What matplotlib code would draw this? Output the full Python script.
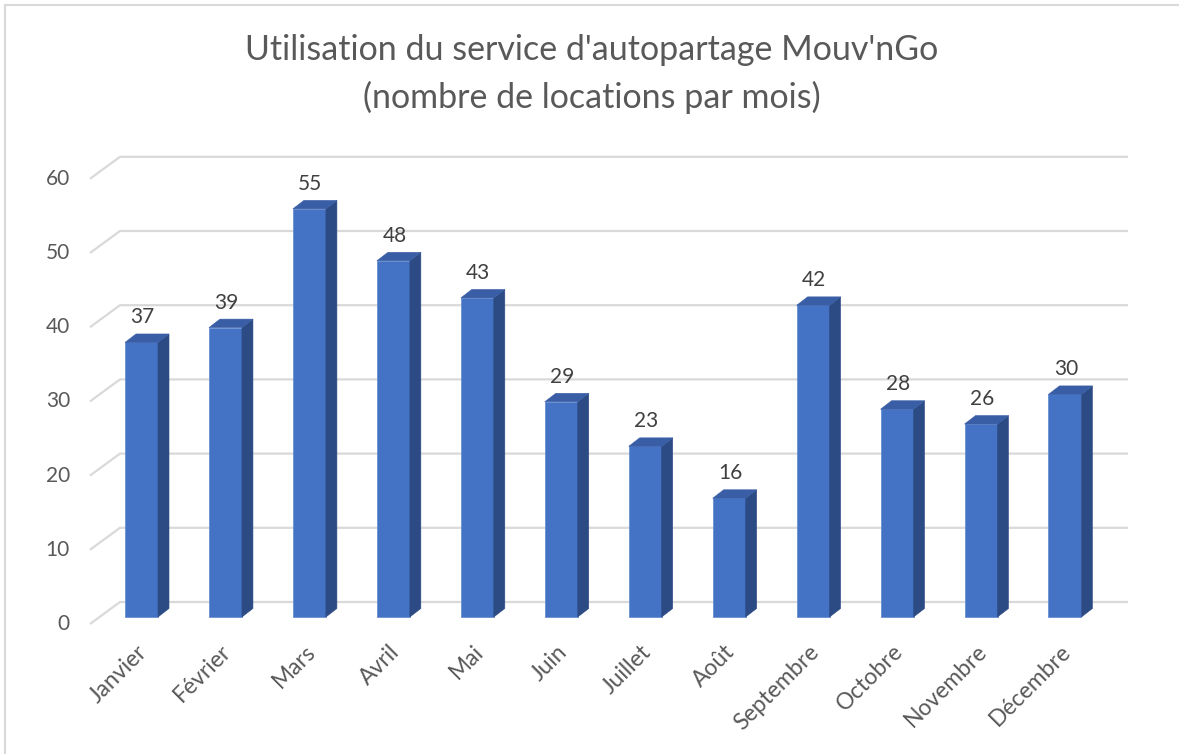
import matplotlib.pyplot as plt
from matplotlib.patches import Polygon, Rectangle
from matplotlib.lines import Line2D

# Data
months = ["Janvier", "Février", "Mars", "Avril", "Mai", "Juin", "Juillet",
          "Août", "Septembre", "Octobre", "Novembre", "Décembre"]
locations = [37, 39, 55, 48, 43, 29, 23, 16, 42, 28, 26, 30]
y_ticks = [0, 10, 20, 30, 40, 50, 60]

plt.rcParams['font.family'] = ['Lato', 'DejaVu Sans']
text_color = "#595959"
grid_color = "#D9D9D9"

W, H = 1179, 754
fig = plt.figure(figsize=(W / 100, H / 100), dpi=100)
ax = fig.add_axes([0, 0, 1, 1])
ax.axis("off")

# pixel scale of the chart (category units / value units per pixel)
PX = 1 / 83.95
PY = 1 / 7.42
x0_px, y0_px = 141.5, 617
ax.set_xlim((0 - x0_px) * PX, (W - x0_px) * PX)
ax.set_ylim((y0_px - H) * PY, y0_px * PY)

# 3D depth offsets (in pixels, relative to the bar front plane)
front_dx, front_dy = -51.5, -7     # floor front edge
back_dx, back_dy = -21.5, 15       # back wall left edge
right_dx = 986.5                   # back wall right edge
bar_w = 33 * PX
depth_x, depth_y = 11 * PX, 8.5 * PY

# gridlines: diagonal on the side wall, then along the back wall
for v in y_ticks:
    xf, yf = front_dx * PX, v + front_dy * PY
    xb, yb = back_dx * PX, v + back_dy * PY
    xr = right_dx * PX
    ax.plot([xf, xb, xr], [yf, yb, yb], color=grid_color, lw=1.6,
            zorder=1, solid_capstyle="butt")
    ax.text(xf - 20 * PX, yf, str(v), ha="right", va="center",
            fontsize=15, color=text_color)

front_c = "#4472C4"
side_c = "#2C4B84"
top_c = "#3A5EA6"

for i, v in enumerate(locations):
    xl, xr = i - bar_w / 2, i + bar_w / 2
    ax.add_patch(Rectangle((xl, 0), bar_w, v, facecolor=front_c,
                           edgecolor="#6A8FD2", lw=0.6, zorder=3))
    ax.add_patch(Polygon([(xr, 0), (xr + depth_x, depth_y),
                          (xr + depth_x, v + depth_y), (xr, v)],
                         closed=True, facecolor=side_c, edgecolor=side_c,
                         lw=0.4, zorder=3))
    ax.add_patch(Polygon([(xl, v), (xr, v), (xr + depth_x, v + depth_y),
                          (xl + depth_x, v + depth_y)],
                         closed=True, facecolor=top_c, edgecolor=top_c,
                         lw=0.4, zorder=3))
    ax.text(i + 1 * PX, v + 25 * PY, str(v), ha="center", va="center",
            fontsize=15, color="#404040", zorder=4)
    ax.text(i - 5 * PX, -24 * PY, months[i], rotation=45,
            rotation_mode="anchor", ha="right", va="top",
            fontsize=16.5, color=text_color)

# title
fig.text(592 / W, 1 - 50 / H, "Utilisation du service d'autopartage Mouv'nGo",
         ha="center", va="center", fontsize=24.5, color=text_color)
fig.text(592 / W, 1 - 97 / H, "(nombre de locations par mois)",
         ha="center", va="center", fontsize=24.5, color=text_color)

# chart border (left and top visible)
fig.add_artist(Line2D([5 / W, 5 / W], [0, 1 - 5 / H], color=grid_color, lw=1.5))
fig.add_artist(Line2D([5 / W, 1], [1 - 5 / H, 1 - 5 / H], color=grid_color, lw=1.5))

fig.savefig("out.png", dpi=100)
